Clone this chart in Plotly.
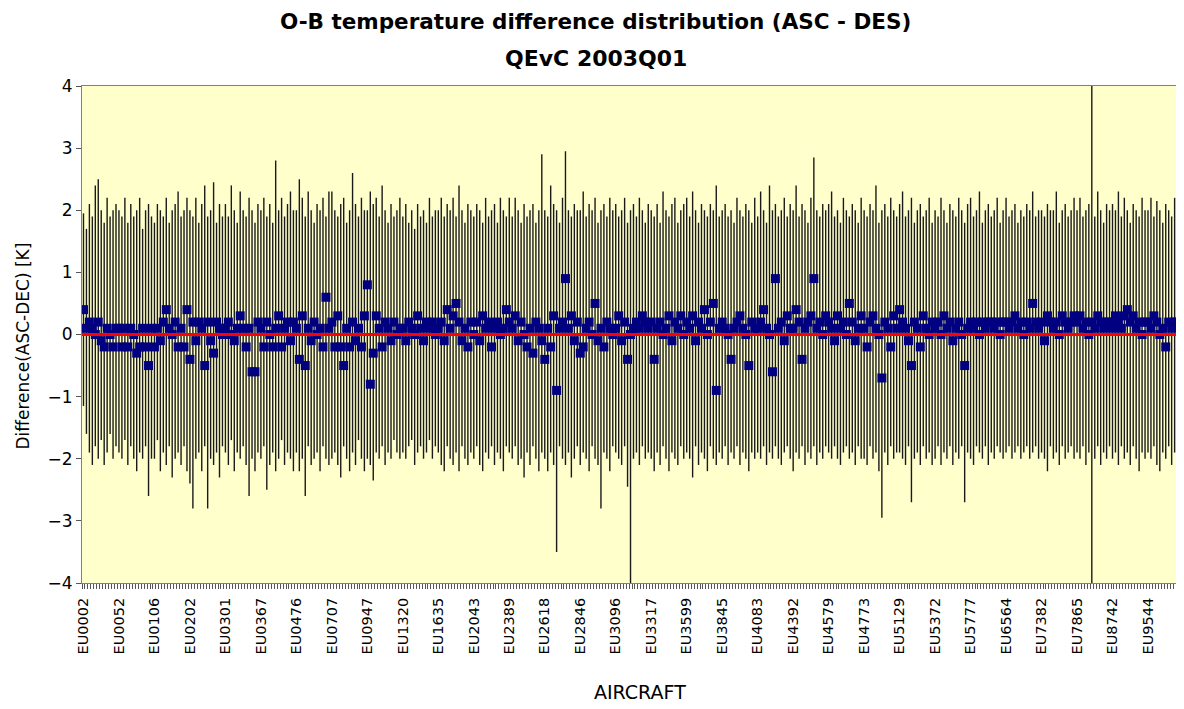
import plotly.graph_objects as go

tick_labels = ["EU0002", "EU0052", "EU0106", "EU0202", "EU0301", "EU0367", "EU0476",
               "EU0707", "EU0947", "EU1320", "EU1635", "EU2043", "EU2389", "EU2618",
               "EU2846", "EU3096", "EU3317", "EU3599", "EU3845", "EU4083", "EU4392",
               "EU4579", "EU4773", "EU5129", "EU5372", "EU5777", "EU6564", "EU7382",
               "EU7865", "EU8742", "EU9544"]
label_every = 12

# one row of 12 aircraft per labelled tick
diff_max = [
    1.95, 1.7, 2.1, 1.9, 2.4, 2.5, 2.0, 1.8, 2.2, 1.9, 2.0, 2.1,
    2.0, 1.9, 2.2, 1.8, 2.1, 1.9, 2.0, 2.2, 1.7, 2.0, 2.1, 1.9,
    1.8, 2.1, 2.0, 1.9, 2.2, 1.8, 2.0, 2.1, 2.3, 1.9, 2.0, 2.2,
    2.0, 1.9, 2.2, 1.8, 2.1, 2.4, 1.9, 2.0, 2.45, 1.8, 2.1, 1.9,
    2.1, 1.9, 2.4, 2.0, 1.8, 2.3, 2.0, 1.9, 2.2, 2.0, 1.8, 2.1,
    2.0, 2.2, 1.9, 2.1, 1.8, 2.8, 2.0, 2.2, 1.9, 2.1, 2.3, 2.0,
    2.0, 2.5, 2.2, 1.9, 2.3, 2.0, 1.8, 2.1, 2.0, 2.2, 1.9, 2.3,
    2.3, 2.0, 1.9, 2.1, 2.2, 1.8, 2.0, 2.6, 2.1, 1.9, 2.2, 2.0,
    2.0, 2.3, 2.1, 2.2, 1.9, 2.4, 2.0, 1.8, 2.1, 1.9, 2.0, 2.2,
    1.9, 2.1, 1.8, 2.0, 1.7, 2.1, 1.9, 2.0, 1.8, 2.2, 1.9, 2.0,
    2.0, 2.2, 1.9, 2.1, 2.0, 2.2, 1.9, 2.4, 2.0, 1.8, 2.1, 2.0,
    1.9, 2.1, 2.0, 1.8, 2.2, 1.9, 2.0, 2.1, 1.8, 2.2, 2.0, 1.9,
    2.2, 1.9, 2.2, 2.0, 1.8, 2.1, 1.9, 2.0, 2.1, 1.8, 2.0, 2.9,
    2.0, 1.9, 2.4, 2.1, 2.0, 1.8, 2.2, 2.95, 2.0, 1.9, 2.1, 2.0,
    2.0, 2.3, 1.9, 2.1, 2.0, 2.2, 1.8, 2.0, 2.1, 1.9, 2.2, 2.0,
    2.1, 1.9, 2.0, 2.2, 1.8, 2.0, 2.1, 1.9, 2.2, 2.0, 1.8, 2.1,
    2.0, 1.9, 2.1, 1.8, 2.3, 2.0, 1.9, 2.1, 2.2, 1.8, 2.0, 2.1,
    2.2, 1.9, 2.3, 2.0, 1.8, 2.1, 2.0, 1.9, 2.1, 2.0, 2.4, 1.9,
    2.0, 2.1, 1.9, 2.0, 1.8, 2.2, 2.0, 1.9, 2.1, 2.0, 1.8, 2.2,
    1.9, 2.3, 2.0, 1.8, 2.4, 2.0, 2.1, 1.9, 2.0, 2.2, 1.9, 2.1,
    2.0, 2.4, 1.9, 2.1, 2.0, 1.8, 2.2, 2.85, 2.0, 1.9, 2.1, 2.0,
    2.1, 2.3, 1.9, 2.0, 1.8, 2.2, 2.0, 1.9, 2.1, 2.0, 1.8, 2.2,
    2.0, 1.9, 2.1, 2.0, 2.4, 1.8, 2.0, 2.1, 1.9, 2.2, 2.0, 1.9,
    2.1, 2.3, 1.9, 2.0, 2.2, 1.8, 2.0, 2.1, 1.9, 2.0, 2.2, 1.8,
    2.0, 1.9, 2.2, 2.0, 1.8, 2.1, 2.0, 1.9, 2.2, 2.0, 1.8, 2.1,
    2.2, 1.9, 2.0, 2.3, 1.8, 2.0, 2.1, 1.9, 2.0, 2.2, 1.8, 2.0,
    2.2, 1.9, 2.0, 2.1, 1.8, 2.0, 1.9, 2.1, 2.0, 2.3, 1.9, 2.0,
    2.0, 1.9, 2.1, 2.0, 2.0, 2.3, 1.8, 2.0, 2.1, 1.9, 2.0, 2.2,
    2.0, 2.2, 1.9, 2.0, 2.1, 4.0, 1.9, 2.3, 2.0, 1.8, 2.1, 2.0,
    2.1, 2.0, 2.3, 1.9, 2.2, 2.0, 1.8, 2.1, 2.0, 1.9, 2.2, 2.0,
    2.0, 2.2, 1.9, 2.15, 2.0, 1.8, 2.1, 2.0, 1.9, 2.2, 2.0, 1.5,
]

diff_min = [
    -1.15, -1.6, -1.9, -2.1, -1.8, -2.0, -1.7, -2.1, -1.9, -1.6, -2.0, -1.8,
    -1.9, -2.0, -1.7, -2.1, -1.8, -2.0, -2.2, -1.9, -2.0, -1.8, -2.6, -2.0,
    -2.0, -1.7, -2.2, -1.9, -2.1, -1.8, -2.3, -2.0, -1.9, -2.1, -1.8, -2.2,
    -2.4, -2.8, -2.0, -1.9, -2.2, -1.8, -2.8, -2.0, -2.1, -1.9, -2.3, -1.8,
    -1.9, -2.1, -1.7, -2.2, -1.9, -2.0, -1.8, -2.1, -2.6, -2.0, -2.2, -1.9,
    -2.0, -1.8, -2.5, -2.1, -1.9, -2.2, -2.0, -1.7, -2.1, -1.9, -2.0, -2.2,
    -1.9, -2.2, -2.0, -2.6, -1.8, -2.1, -2.0, -1.9, -2.2, -1.8, -2.0, -2.1,
    -2.0, -1.9, -2.1, -2.3, -1.8, -2.0, -2.2, -1.9, -2.1, -1.7, -2.0, -2.2,
    -2.0, -2.1, -2.35, -1.9, -2.0, -1.8, -2.1, -1.9, -2.0, -1.7, -1.9, -2.0,
    -1.9, -2.0, -1.8, -1.7, -2.1, -1.9, -1.8, -2.0, -1.9, -1.7, -2.0, -1.8,
    -1.9, -2.1, -2.2, -1.8, -2.0, -2.1, -1.9, -2.2, -1.8, -2.0, -2.1, -1.9,
    -2.0, -1.8, -2.1, -2.2, -1.9, -2.0, -1.8, -2.1, -1.9, -2.0, -2.2, -1.8,
    -1.9, -2.0, -1.8, -2.1, -2.0, -2.3, -1.9, -2.1, -1.8, -2.0, -2.2, -1.9,
    -2.0, -2.2, -1.9, -2.1, -3.5, -1.8, -2.0, -2.1, -1.9, -2.3, -2.0, -1.8,
    -2.1, -1.9, -2.0, -2.2, -1.8, -2.0, -2.1, -2.8, -1.9, -2.0, -2.2, -1.8,
    -1.9, -2.0, -2.1, -1.8, -2.45, -4.0, -2.0, -1.9, -2.1, -1.8, -2.0, -1.9,
    -2.0, -2.2, -1.9, -2.1, -1.8, -2.0, -2.2, -1.9, -2.0, -2.1, -1.8, -2.0,
    -1.9, -2.0, -2.3, -1.8, -2.1, -1.9, -2.0, -2.2, -1.8, -2.0, -2.1, -1.9,
    -2.0, -1.8, -2.1, -1.9, -2.0, -1.8, -2.1, -1.9, -2.0, -2.2, -1.9, -2.0,
    -1.9, -2.0, -1.8, -2.1, -1.9, -2.0, -1.8, -2.0, -2.1, -1.9, -1.8, -2.0,
    -2.2, -1.9, -2.0, -1.8, -2.1, -1.9, -2.0, -1.8, -2.1, -1.9, -2.0, -1.8,
    -1.9, -2.0, -1.8, -2.0, -2.1, -1.9, -1.8, -2.0, -1.9, -2.1, -1.8, -2.0,
    -2.0, -2.1, -1.8, -2.0, -1.9, -2.2, -2.95, -1.9, -2.1, -1.8, -2.0, -1.9,
    -1.9, -2.0, -2.1, -1.8, -2.7, -2.0, -1.9, -2.1, -1.8, -2.0, -1.9, -2.1,
    -2.0, -1.8, -2.1, -1.9, -2.0, -1.8, -2.1, -1.9, -2.0, -1.8, -2.7, -1.9,
    -2.0, -2.1, -1.8, -1.9, -2.0, -1.8, -2.1, -1.9, -2.0, -1.8, -1.9, -2.0,
    -1.9, -1.8, -2.0, -1.9, -1.8, -2.0, -1.9, -1.8, -2.0, -1.9, -1.8, -2.0,
    -1.9, -2.0, -2.2, -1.8, -2.0, -1.9, -2.1, -1.8, -2.0, -1.9, -1.8, -2.0,
    -1.9, -2.0, -1.8, -2.1, -1.9, -4.0, -2.0, -1.8, -2.1, -1.9, -2.0, -1.8,
    -2.0, -1.9, -2.1, -1.8, -2.0, -1.9, -2.1, -1.8, -2.0, -2.2, -1.9, -2.0,
    -1.9, -2.0, -1.8, -2.1, -2.2, -1.9, -2.0, -1.8, -2.1, -1.9, -2.0, -1.4,
]

diff_mid = [
    0.4, 0.1, 0.2, 0.1, 0.0, 0.2, -0.1, -0.2, 0.1, 0.0, -0.2, 0.1,
    0.1, -0.2, 0.1, -0.2, 0.1, 0.0, -0.3, -0.2, 0.1, -0.2, -0.5, 0.1,
    -0.2, 0.1, -0.1, 0.2, 0.4, 0.1, 0.0, 0.2, -0.2, 0.1, -0.2, 0.4,
    -0.4, 0.2, -0.1, 0.2, 0.1, -0.5, 0.2, -0.1, -0.3, 0.2, 0.1, 0.0,
    0.1, 0.2, 0.0, -0.1, 0.1, 0.3, 0.1, -0.2, 0.1, -0.6, -0.6, 0.2,
    0.1, -0.2, 0.2, 0.0, -0.2, 0.1, 0.3, -0.2, 0.1, 0.2, -0.1, 0.2,
    0.1, -0.4, 0.3, -0.5, 0.1, -0.1, 0.2, 0.0, 0.1, -0.2, 0.6, 0.1,
    0.2, -0.2, 0.3, -0.2, -0.5, 0.1, -0.2, 0.2, -0.1, 0.1, -0.2, 0.3,
    0.8, -0.8, -0.3, 0.3, 0.1, -0.2, 0.2, 0.1, -0.1, 0.2, 0.0, 0.1,
    0.1, -0.1, 0.2, 0.1, 0.0, 0.3, 0.1, -0.1, 0.2, 0.1, 0.2, 0.0,
    0.1, 0.2, -0.1, 0.4, 0.1, 0.3, 0.5, 0.2, -0.1, 0.1, -0.2, 0.2,
    0.0, 0.2, -0.1, 0.3, 0.1, 0.2, -0.2, 0.1, 0.2, 0.0, 0.1, 0.4,
    0.2, 0.1, 0.3, -0.1, 0.2, 0.0, -0.2, 0.1, -0.3, 0.2, 0.1, -0.1,
    -0.4, 0.1, -0.2, 0.3, -0.9, 0.1, 0.2, 0.9, 0.1, 0.3, -0.1, 0.2,
    -0.3, -0.2, 0.1, 0.2, 0.0, 0.5, -0.1, 0.1, -0.2, 0.2, 0.1, 0.0,
    0.1, 0.3, -0.1, 0.2, -0.4, 0.0, 0.1, 0.2, 0.1, 0.3, 0.2, 0.1,
    0.2, -0.4, 0.1, 0.2, 0.0, 0.1, 0.3, -0.1, 0.2, 0.1, 0.3, 0.0,
    0.2, 0.1, 0.3, -0.1, 0.2, 0.1, 0.4, 0.0, 0.2, 0.5, -0.9, 0.1,
    0.2, 0.1, 0.0, -0.4, 0.1, 0.2, 0.3, 0.1, 0.0, -0.5, 0.2, 0.1,
    0.1, 0.2, 0.4, 0.1, 0.0, -0.6, 0.9, 0.1, 0.2, -0.1, 0.3, 0.1,
    0.1, 0.4, 0.2, -0.4, 0.1, 0.2, 0.3, 0.9, 0.1, 0.2, 0.0, 0.3,
    0.2, 0.1, -0.1, 0.3, 0.1, 0.2, 0.0, 0.5, 0.2, -0.1, 0.1, 0.3,
    0.1, -0.2, 0.2, 0.3, 0.1, 0.0, -0.7, 0.2, 0.1, -0.2, 0.3, 0.1,
    0.4, 0.2, 0.1, -0.1, -0.5, 0.2, 0.1, -0.2, 0.3, 0.1, 0.0, 0.2,
    0.1, 0.2, 0.0, 0.3, 0.1, 0.2, -0.1, 0.1, 0.2, 0.0, -0.5, 0.1,
    0.2, 0.1, 0.2, 0.0, 0.2, 0.1, 0.2, 0.2, 0.1, 0.2, 0.0, 0.2,
    0.2, 0.1, 0.2, 0.3, 0.1, 0.2, 0.0, 0.2, 0.1, 0.5, 0.2, 0.1,
    0.2, -0.1, 0.3, 0.2, 0.1, 0.2, 0.0, 0.3, 0.2, 0.1, 0.2, 0.3,
    0.2, 0.3, 0.1, 0.2, 0.0, 0.2, 0.1, 0.3, 0.2, 0.1, 0.2, 0.2,
    0.1, 0.3, 0.2, 0.1, 0.3, 0.4, 0.2, 0.3, 0.1, 0.2, 0.0, 0.2,
    0.2, 0.1, 0.3, 0.2, 0.0, 0.1, -0.2, 0.2, 0.1, 0.2, 0.2, 0.2,
]

n = len(diff_mid)
pos = list(range(n))

# vertical min-max lines
lx, ly = [], []
for i in pos:
    lx += [i, i, None]
    ly += [diff_min[i], diff_max[i], None]

FONT = "DejaVu Sans, Verdana, sans-serif"

fig = go.Figure()
fig.add_trace(go.Scatter(x=lx, y=ly, mode="lines",
                         line=dict(color="#1a1a1a", width=1.4),
                         hoverinfo="skip", showlegend=False))
fig.add_trace(go.Scatter(x=pos, y=diff_mid, mode="markers",
                         marker=dict(symbol="square", size=9, color="#000080",
                                     line=dict(width=0)),
                         showlegend=False))
fig.add_shape(type="line", xref="paper", x0=0, x1=1, yref="y", y0=0, y1=0,
              line=dict(color="#ff0000", width=2.8), layer="above")

fig.update_layout(
    width=1176, height=701,
    margin=dict(l=74, r=2, t=78, b=126),
    paper_bgcolor="white", plot_bgcolor="#FFFFCC",
    font=dict(family=FONT, color="black"),
    showlegend=False,
)
fig.update_xaxes(
    range=[-0.5, n - 0.5],
    tickmode="array",
    tickvals=pos[::label_every],
    ticktext=tick_labels,
    tickangle=-90,
    tickfont=dict(size=14.5, family=FONT),
    ticklabelstandoff=8,
    ticks="", showgrid=False, zeroline=False,
    showline=True, linecolor="#808080", linewidth=1, mirror=True,
    minor=dict(tickmode="linear", tick0=-0.5, dtick=1, ticks="outside",
               ticklen=5, tickcolor="#555555", showgrid=False),
)
fig.update_yaxes(
    range=[-4, 4], dtick=1, tick0=0,
    tickfont=dict(size=17, family=FONT),
    ticks="outside", ticklen=5, tickcolor="#555555",
    showgrid=False, zeroline=False,
    showline=True, linecolor="#808080", linewidth=1, mirror=True,
)

fig.add_annotation(text="<b>O-B temperature difference distribution (ASC - DES)</b>",
                   xref="paper", yref="paper", x=0.467, y=1, yshift=65,
                   showarrow=False, font=dict(size=21.5), yanchor="middle")
fig.add_annotation(text="<b>QEvC 2003Q01</b>",
                   xref="paper", yref="paper", x=0.467, y=1, yshift=28,
                   showarrow=False, font=dict(size=22), yanchor="middle")
fig.add_annotation(text="Difference(ASC-DEC) [K]", textangle=-90,
                   xref="paper", yref="paper", x=0, xshift=-60, y=0.5, yshift=-12,
                   xanchor="center", yanchor="middle",
                   showarrow=False, font=dict(size=17))
fig.add_annotation(text="AIRCRAFT",
                   xref="paper", yref="paper", x=0.507, y=0, yshift=-109,
                   xanchor="center", yanchor="middle",
                   showarrow=False, font=dict(size=19))

fig.write_html("out.html")
